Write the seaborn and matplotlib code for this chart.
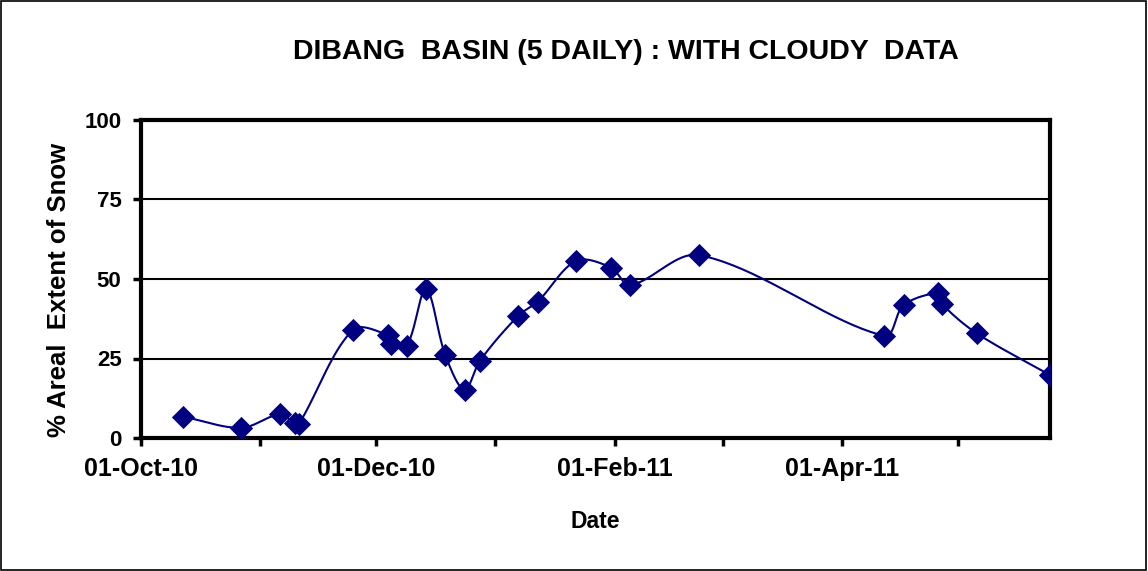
import numpy as np
import pandas as pd
import matplotlib
matplotlib.use('Agg')
import matplotlib.pyplot as plt
import matplotlib.dates as mdates
from matplotlib.patches import Rectangle
import seaborn as sns

sns.set_theme(style='white')
plt.rcParams['font.family'] = ['Liberation Sans', 'DejaVu Sans']
plt.rcParams['font.weight'] = 'bold'
plt.rcParams['text.color'] = 'black'
plt.rcParams['axes.labelcolor'] = 'black'
plt.rcParams['xtick.color'] = 'black'
plt.rcParams['ytick.color'] = 'black'

dates = ['2010-10-12', '2010-10-27', '2010-11-06', '2010-11-10', '2010-11-11',
         '2010-11-25', '2010-12-04', '2010-12-05', '2010-12-09', '2010-12-14',
         '2010-12-19', '2010-12-24', '2010-12-28', '2011-01-07', '2011-01-12',
         '2011-01-22', '2011-01-31', '2011-02-05', '2011-02-23', '2011-04-12',
         '2011-04-17', '2011-04-26', '2011-04-27', '2011-05-06', '2011-05-25']
snow_pct = [6.7, 3.2, 7.4, 4.6, 4.4,
            34.0, 32.4, 29.6, 29.0, 46.8,
            26.1, 15.1, 24.3, 38.5, 42.9,
            55.7, 53.6, 48.1, 57.5, 32.1,
            41.8, 45.5, 42.1, 32.9, 19.8]
y_ticks = [0, 25, 50, 75, 100]
x_start, x_end = '2010-10-01', '2011-05-25'
title = 'DIBANG  BASIN (5 DAILY) : WITH CLOUDY  DATA'
navy = '#000080'


def smooth_curve(x, y, sx, sy, n=40):
    # excel style smoothed line: bezier segments, tangents weighted by
    # neighbouring segment lengths measured in screen units
    p = np.column_stack([x * sx, y * sy])
    p = np.vstack([p[0], p, p[-1]])
    seglen = np.hypot(*np.diff(p, axis=0).T)
    out = []
    t = np.linspace(0, 1, n)[:, None]
    for i in range(1, len(p) - 2):
        p0, p1, p2, p3 = p[i - 1], p[i], p[i + 1], p[i + 2]
        la, lb, lc = seglen[i - 1], seglen[i], seglen[i + 1]
        w1 = lb / (la + lb) if la + lb > 0 else 0.5
        w2 = lb / (lb + lc) if lb + lc > 0 else 0.5
        c1 = p1 + (p2 - p0) * w1 / 3
        c2 = p2 - (p3 - p1) * w2 / 3
        seg = (1 - t)**3 * p1 + 3 * (1 - t)**2 * t * c1 + 3 * (1 - t) * t**2 * c2 + t**3 * p2
        out.append(seg)
    out = np.vstack(out)
    return out[:, 0] / sx, out[:, 1] / sy


df = pd.DataFrame({'date': pd.to_datetime(dates), 'snow': snow_pct})
df['xnum'] = mdates.date2num(df['date'])
x0 = mdates.date2num(pd.Timestamp(x_start))
x1 = mdates.date2num(pd.Timestamp(x_end))
cx, cy = smooth_curve(df['xnum'].values - x0, df['snow'].values, 909 / (x1 - x0), 3.18)
cx = cx + x0

fig = plt.figure(figsize=(11.48, 5.71), dpi=100)
ax = fig.add_axes([141 / 1148, 1 - 438 / 571, (1050 - 141) / 1148, (438 - 120) / 571])

for v in y_ticks[1:-1]:
    ax.axhline(v, color='black', lw=1.5, zorder=1)

sns.lineplot(x=cx, y=cy, sort=False, estimator=None, color=navy, lw=1.5, ax=ax, zorder=2)
sns.scatterplot(data=df, x='xnum', y='snow', marker='D', s=140, color=navy,
                edgecolor=navy, linewidth=0, ax=ax, zorder=3)

ax.set_xlim(x0, x1)
ax.set_ylim(0, 100)
ax.set_yticks(y_ticks)
ax.xaxis.set_major_locator(mdates.MonthLocator(bymonth=[10, 12, 2, 4]))
ax.xaxis.set_minor_locator(mdates.MonthLocator(bymonth=[11, 1, 3, 5]))
ax.xaxis.set_major_formatter(mdates.DateFormatter('%d-%b-%y'))

ax.tick_params(axis='both', which='both', direction='out', length=6, width=2.5,
               color='black', bottom=True, left=True)
ax.tick_params(axis='x', pad=8, labelsize=18)
ax.tick_params(axis='y', pad=8, labelsize=16)

for side in ['left', 'bottom', 'right', 'top']:
    ax.spines[side].set_linewidth(3)
    ax.spines[side].set_color('black')

ax.set_xlabel('Date', fontsize=16.5, fontweight='bold')
ax.set_ylabel('% Areal  Extent of Snow', fontsize=18.5, fontweight='bold')
ax.xaxis.set_label_coords(0.5, -0.225)
ax.yaxis.set_label_coords(-0.077, 0.465)

fig.text(626 / 1148, 1 - 52 / 571, title, ha='center', va='center',
         fontsize=20.5, fontweight='bold')

fig.patches.append(Rectangle((0.001, 0.002), 0.997, 0.996, transform=fig.transFigure,
                             fill=False, edgecolor='black', lw=1.2))

fig.savefig('out.png', dpi=100, facecolor='white')
